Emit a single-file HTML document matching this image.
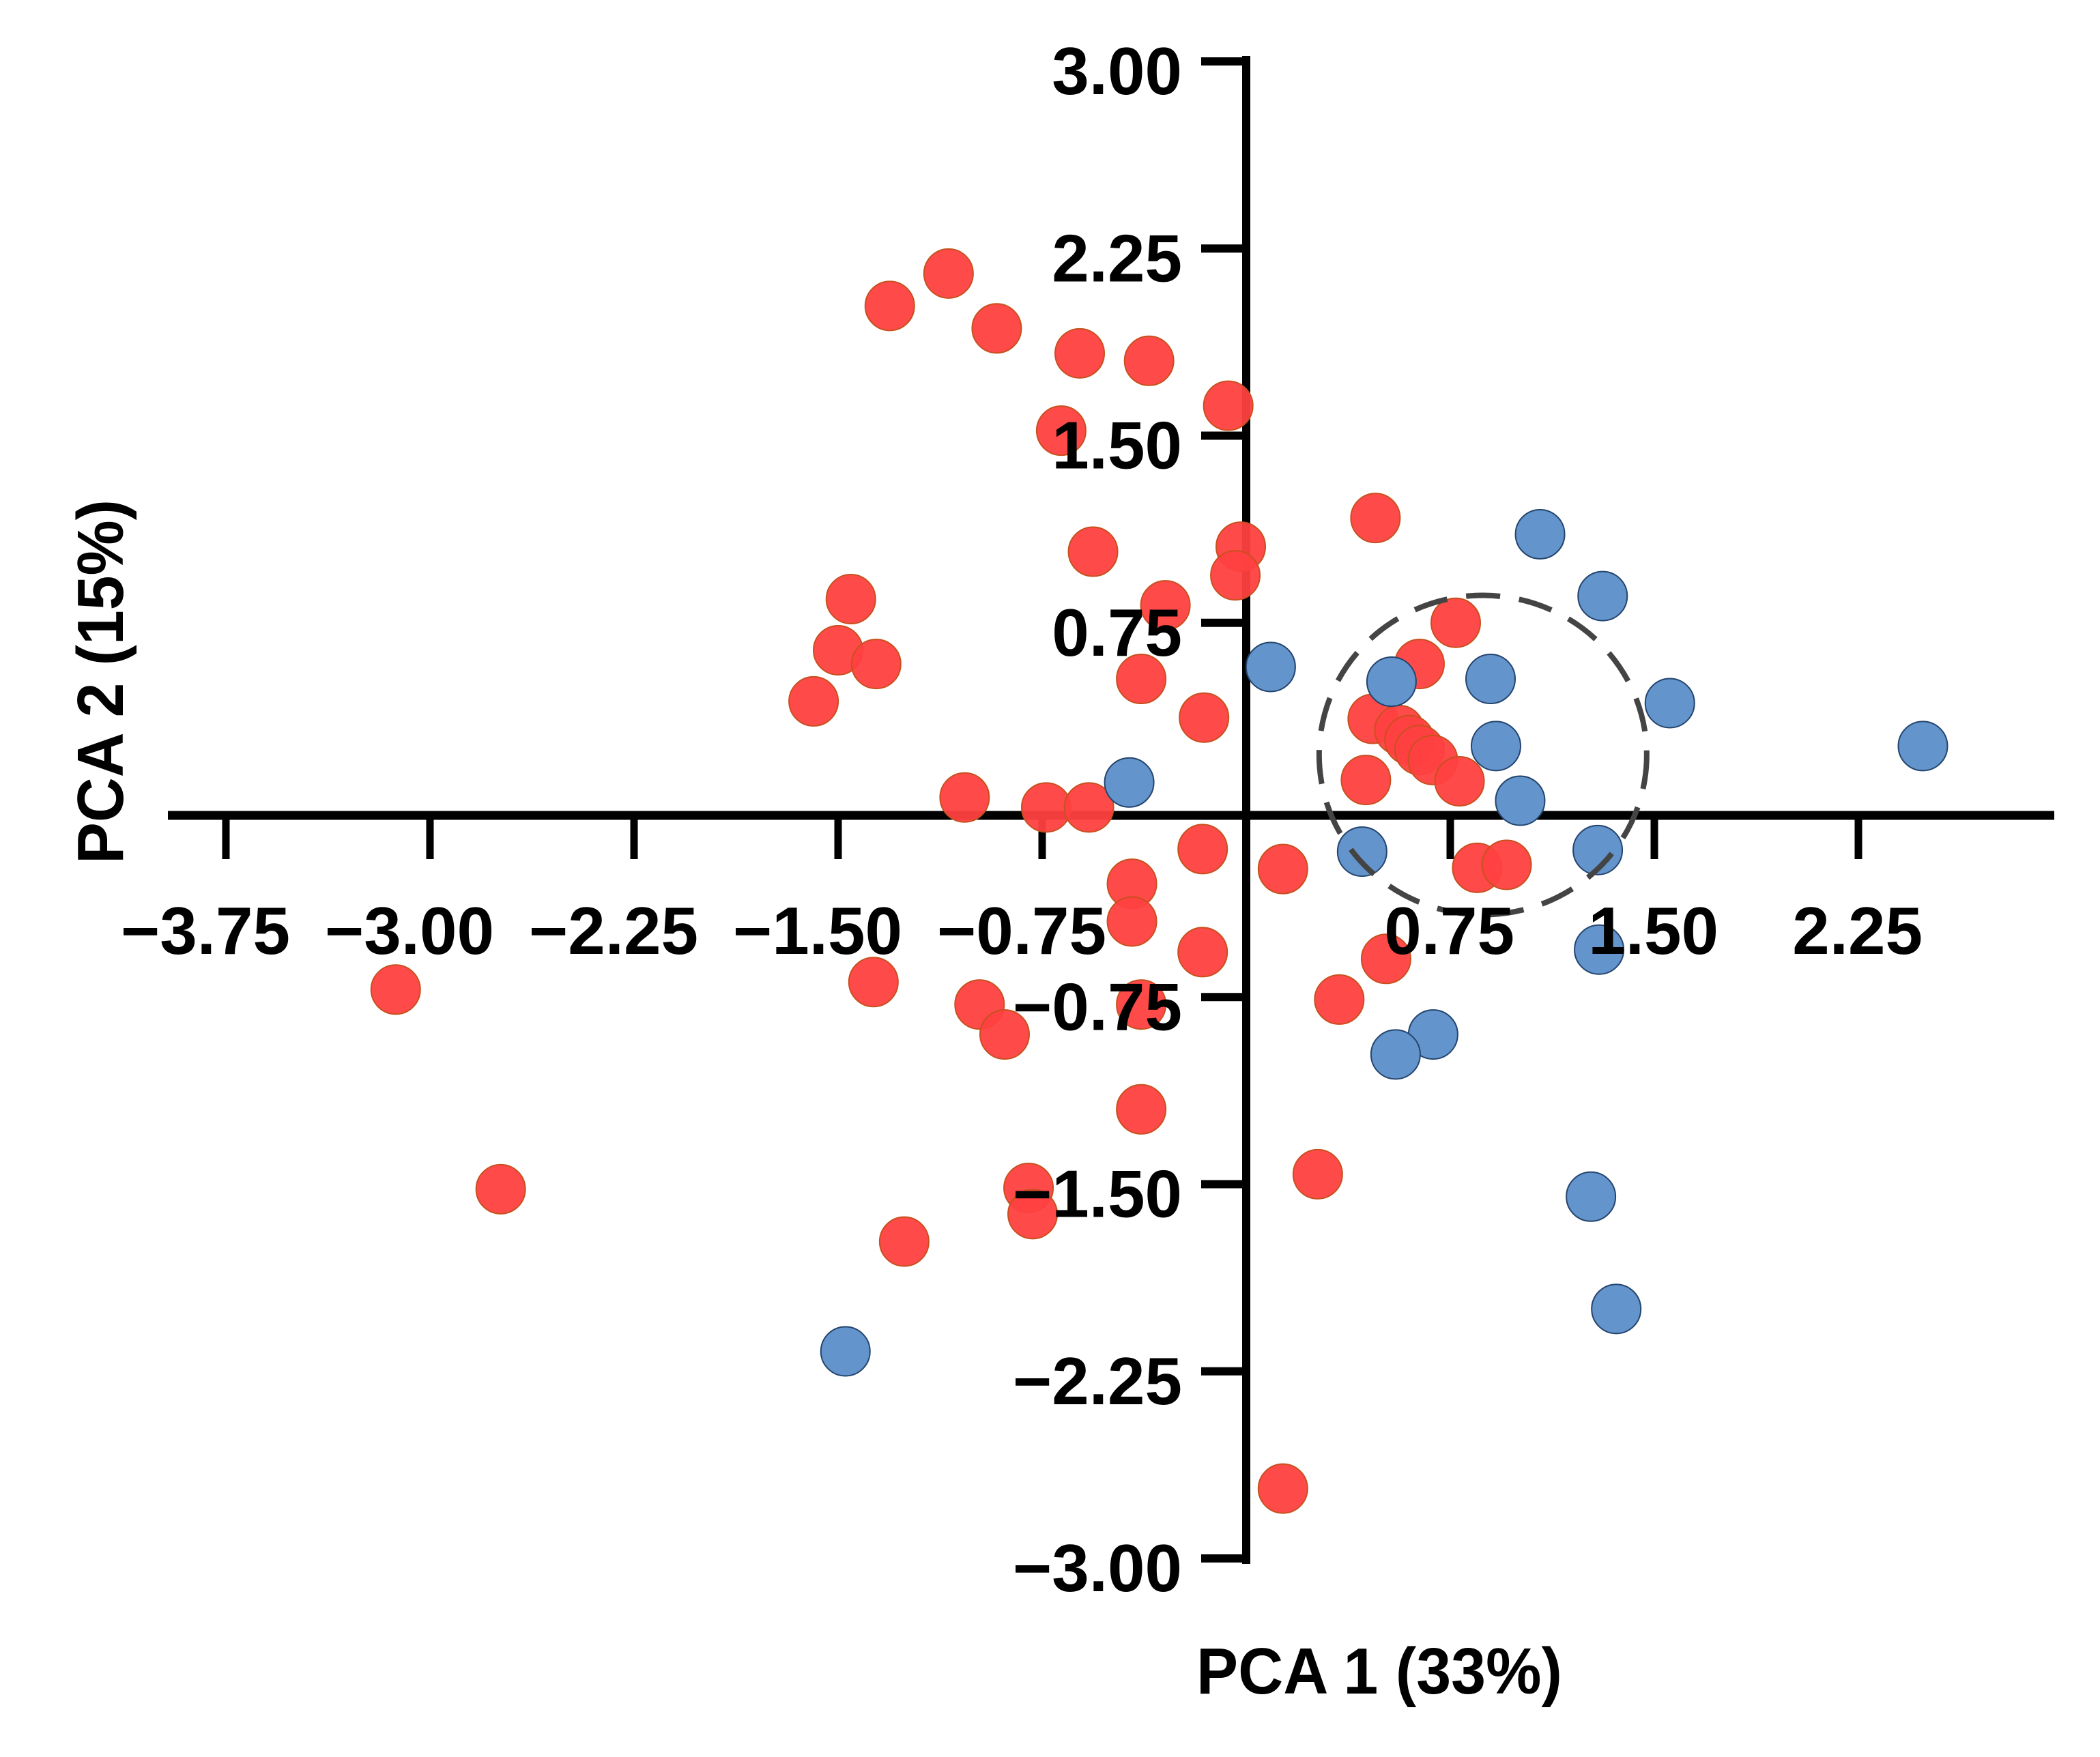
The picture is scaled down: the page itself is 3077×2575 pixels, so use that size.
<!DOCTYPE html>
<html><head><meta charset="utf-8"><style>
html,body{margin:0;padding:0;background:#fff}
svg{display:block}
text{font-family:"Liberation Sans",sans-serif;font-weight:bold;fill:#000}
</style></head><body>
<svg id="chart" width="3077" height="2575" viewBox="0 0 3077 2575" xmlns="http://www.w3.org/2000/svg">
<g id="axes"></g>
<g id="pts"></g>
<g id="labels"></g>
<text x="2021" y="2482" text-anchor="middle" font-size="96" textLength="536" lengthAdjust="spacingAndGlyphs">PCA 1 (33%)</text>
<text x="0" y="0" transform="translate(180,999) rotate(-90)" text-anchor="middle" font-size="96" textLength="534" lengthAdjust="spacingAndGlyphs">PCA 2 (15%)</text>
</svg>
<script>
const xTicks=[-3.75,-3.00,-2.25,-1.50,-0.75,0.75,1.50,2.25];
const xTickLabels=["−3.75","−3.00","−2.25","−1.50","−0.75","0.75","1.50","2.25"];
const yTicks=[3.00,2.25,1.50,0.75,-0.75,-1.50,-2.25,-3.00];
const yTickLabels=["3.00","2.25","1.50","0.75","−0.75","−1.50","−2.25","−3.00"];
const redX=[-1.094,-1.31,-0.917,-0.612,-0.357,-0.066,-0.68,0.475,-0.563,-0.02,-0.04,-1.453,-0.297,-1.50,-1.36,-1.59,-0.386,-0.155,0.77,0.637,0.465,0.563,0.60,0.637,0.686,0.784,0.44,-1.035,-0.735,-0.578,-0.16,0.135,0.849,0.957,-0.42,-0.42,-0.16,0.514,-3.126,-1.37,-0.98,-0.888,-0.386,0.342,-0.386,-2.74,-0.80,-0.785,-1.257,0.263,0.135];
const redY=[2.15,2.02,1.93,1.83,1.80,1.62,1.52,1.17,1.035,1.055,0.94,0.845,0.82,0.64,0.585,0.435,0.525,0.37,0.75,0.585,0.365,0.32,0.28,0.24,0.20,0.115,0.12,0.05,0.01,0.01,-0.157,-0.237,-0.232,-0.22,-0.296,-0.447,-0.57,-0.597,-0.72,-0.69,-0.78,-0.90,-0.78,-0.76,-1.20,-1.52,-1.515,-1.62,-1.73,-1.46,-2.72];
const blueX=[1.08,1.31,0.09,0.534,0.898,1.557,2.487,0.918,-0.43,1.007,0.426,1.292,1.297,0.687,0.549,1.267,1.36,-1.473];
const blueY=[1.105,0.857,0.573,0.514,0.525,0.428,0.256,0.256,0.11,0.037,-0.167,-0.161,-0.56,-0.90,-0.98,-1.55,-2.0,-2.17];
const ellipseCenter=[0.87,0.22];

const NS="http://www.w3.org/2000/svg";
function sx(v){return 1826+v/0.75*299;}
function sy(v){return 1187-v/0.75*274.25;}
function mk(tag,attrs,parent){const e=document.createElementNS(NS,tag);for(const k in attrs)e.setAttribute(k,attrs[k]);parent.appendChild(e);return e;}
const axes=document.getElementById('axes'),pts=document.getElementById('pts'),labels=document.getElementById('labels');

let l=mk('line',{x1:246,y1:1195,x2:3010,y2:1195,stroke:'#000','stroke-width':13},axes);


l=mk('line',{x1:1826,y1:sy(3)-8,x2:1826,y2:sy(-3)+8,stroke:'#000','stroke-width':12},axes);


xTicks.forEach((v,i)=>{
  const t=mk('line',{x1:sx(v),y1:1195,x2:sx(v),y2:1259,stroke:'#000','stroke-width':11},axes);
  
  
  const tx=mk('text',{x:sx(v)+94,y:1398,'text-anchor':'end','font-size':98},labels);
  tx.textContent=xTickLabels[i];
  
  
});
yTicks.forEach((v,i)=>{
  const t=mk('line',{x1:1760,y1:sy(v),x2:1832,y2:sy(v),stroke:'#000','stroke-width':12},axes);
  
  
  const tx=mk('text',{x:1732,y:sy(v)+48,'text-anchor':'end','font-size':98},labels);
  tx.textContent=yTickLabels[i];
  
  
});
redX.forEach((v,i)=>{
  const c=mk('circle',{cx:sx(v),cy:sy(redY[i]),r:36,fill:'#ff4040','fill-opacity':0.95,stroke:'#c8501e','stroke-width':2},pts);
  
  
});
blueX.forEach((v,i)=>{
  const c=mk('circle',{cx:sx(v),cy:sy(blueY[i]),r:36,fill:'#6394cc',stroke:'#24456e','stroke-width':2},pts);
  
  
});
const el=mk('ellipse',{cx:sx(ellipseCenter[0]),cy:sy(ellipseCenter[1]),rx:240,ry:234,fill:'none',stroke:'#444','stroke-width':8,'stroke-dasharray':'50 28'},pts);


</script>
</body></html>
